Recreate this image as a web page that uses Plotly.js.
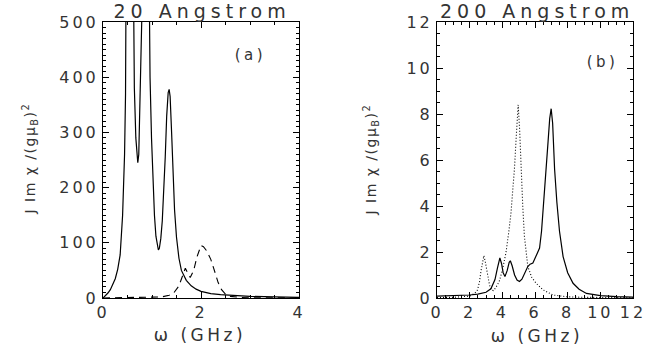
<!DOCTYPE html>
<html>
<head>
<meta charset="utf-8">
<script src="https://cdn.plot.ly/plotly-3.0.1.min.js"></script>
<style>
html, body { margin: 0; padding: 0; background: #fff; }
#chart { width: 646px; height: 353px; }
#chart .xtick text, #chart .ytick text, #chart .x2tick text, #chart .y2tick text { letter-spacing: 3px; }
#chart g.annotation[data-index="0"] text, #chart g.annotation[data-index="1"] text { letter-spacing: 5px; }
#chart g.annotation[data-index="2"] text, #chart g.annotation[data-index="3"] text { letter-spacing: 3.5px; }
#chart g.annotation[data-index="4"] text, #chart g.annotation[data-index="5"] text { letter-spacing: 3.5px; }
#chart g.annotation[data-index="6"] text, #chart g.annotation[data-index="7"] text { letter-spacing: 1.5px; }
</style>
</head>
<body>
<div id="chart"></div>
<script>
// Panel (a): 20 Angstrom
const a_solid_x = [0, 0.05, 0.1, 0.15, 0.2, 0.25, 0.3, 0.35, 0.4, 0.43, 0.44, 0.46, 0.47, 0.49, 0.52, 0.545, 0.57, 0.6, 0.62, 0.64, 0.67, 0.7, 0.71, 0.73, 0.75, 0.77, 0.79, 0.81, 0.84, 0.865, 0.89, 0.92, 0.94, 0.96, 0.99, 1.02, 1.05, 1.08, 1.11, 1.13, 1.15, 1.18, 1.21, 1.24, 1.27, 1.3, 1.33, 1.35, 1.37, 1.4, 1.43, 1.46, 1.5, 1.55, 1.6, 1.65, 1.7, 1.8, 1.9, 2.0, 2.2, 2.4, 2.7, 3.0, 3.5, 4.0];
const a_solid_y = [0, 4, 9, 15, 24, 35, 52, 78, 150, 225, 260, 370, 500, 800, 1500, 2000, 1500, 800, 500, 380, 290, 248, 245, 260, 320, 420, 500, 800, 1500, 2000, 1500, 800, 500, 400, 290, 205, 150, 112, 92, 87, 90, 108, 140, 190, 255, 330, 372, 378, 365, 300, 225, 160, 110, 72, 50, 40, 32, 22, 16, 12, 8, 6, 4, 3, 2, 1];
const a_dash_x = [0, 0.5, 1.0, 1.2, 1.35, 1.45, 1.55, 1.62, 1.68, 1.73, 1.78, 1.85, 1.92, 2.0, 2.05, 2.12, 2.2, 2.28, 2.35, 2.42, 2.5, 2.6, 2.8, 3.0, 4.0];
const a_dash_y = [0, 0.5, 1, 2, 5, 10, 22, 38, 54, 45, 37, 50, 75, 95, 93, 85, 70, 48, 28, 15, 7, 3, 1, 0.5, 0];

// Panel (b): 200 Angstrom
const b_solid_x = [0, 1, 2, 2.5, 3.0, 3.3, 3.55, 3.7, 3.85, 3.95, 4.05, 4.16, 4.3, 4.42, 4.49, 4.6, 4.75, 4.9, 5.05, 5.2, 5.4, 5.56, 5.7, 5.87, 6.05, 6.28, 6.4, 6.5, 6.6, 6.7, 6.8, 6.9, 6.99, 7.08, 7.2, 7.34, 7.5, 7.72, 8.0, 8.33, 8.7, 9.15, 10, 11, 12];
const b_solid_y = [0.08, 0.1, 0.13, 0.17, 0.25, 0.4, 0.8, 1.3, 1.74, 1.5, 1.1, 0.93, 1.2, 1.55, 1.62, 1.4, 1.0, 0.78, 0.72, 0.82, 1.15, 1.37, 1.47, 1.52, 1.8, 2.17, 2.9, 3.8, 4.8, 5.7, 6.8, 7.8, 8.23, 7.6, 5.6, 4.15, 2.9, 1.8, 1.1, 0.64, 0.38, 0.2, 0.1, 0.06, 0.04];
const b_dot_x = [0, 1, 2, 2.3, 2.48, 2.6, 2.7, 2.8, 2.87, 2.95, 3.05, 3.12, 3.22, 3.33, 3.45, 3.6, 3.81, 4.0, 4.22, 4.4, 4.53, 4.65, 4.74, 4.85, 4.97, 5.06, 5.15, 5.25, 5.35, 5.45, 5.56, 5.8, 6.07, 6.5, 7.1, 8, 9, 12];
const b_dot_y = [0.02, 0.03, 0.08, 0.2, 0.35, 0.7, 1.2, 1.7, 1.84, 1.6, 1.15, 0.93, 0.55, 0.35, 0.32, 0.45, 0.72, 1.2, 1.96, 2.9, 3.7, 4.8, 5.6, 7.0, 8.4, 7.3, 5.6, 4.0, 2.7, 1.9, 1.37, 0.9, 0.64, 0.35, 0.13, 0.05, 0.03, 0.01];

const titles = ["20 Angstrom", "200 Angstrom"];
const panelLabels = ["(a)", "(b)"];
const xTitle = "ω (GHz)";
const yTitle = "J Im χ /(gμ<sub>B</sub>)<sup>2</sup>";

const FONT = "DejaVu Sans, sans-serif";
const TXT = "#333";

const traces = [
  {x: a_solid_x, y: a_solid_y, xaxis: 'x', yaxis: 'y', mode: 'lines', line: {color: '#000', width: 1.2}},
  {x: a_dash_x, y: a_dash_y, xaxis: 'x', yaxis: 'y', mode: 'lines', line: {color: '#000', width: 1.1, dash: '7px,5px'}},
  {x: b_solid_x, y: b_solid_y, xaxis: 'x2', yaxis: 'y2', mode: 'lines', line: {color: '#000', width: 1.2}},
  {x: b_dot_x, y: b_dot_y, xaxis: 'x2', yaxis: 'y2', mode: 'lines', line: {color: '#000', width: 1.1, dash: '1px,2px'}}
];

function ax(extra) {
  return Object.assign({
    showgrid: false, zeroline: false, showline: true, linecolor: '#000', linewidth: 1,
    mirror: 'ticks', ticks: 'inside', ticklen: 6, tickwidth: 1, tickcolor: '#000',
    tickfont: {family: FONT, size: 16, color: TXT}
  }, extra);
}

const yDom = [(353 - 298) / 353, (353 - 22) / 353];

const layout = {
  width: 646, height: 353,
  margin: {l: 0, r: 0, t: 0, b: 0},
  paper_bgcolor: '#fff', plot_bgcolor: '#fff',
  showlegend: false,
  hovermode: false,
  xaxis: ax({domain: [103 / 646, 299 / 646], range: [0, 4], dtick: 2, tick0: 0,
    minor: {dtick: 0.5, ticklen: 3, ticks: 'inside', tickcolor: '#000'}}),
  yaxis: ax({domain: yDom, range: [0, 500], dtick: 100, tick0: 0,
    minor: {dtick: 10, ticklen: 3, ticks: 'inside', tickcolor: '#000'}}),
  xaxis2: ax({domain: [437 / 646, 633 / 646], range: [0, 12], dtick: 2, tick0: 0, anchor: 'y2',
    minor: {dtick: 0.5, ticklen: 3, ticks: 'inside', tickcolor: '#000'}}),
  yaxis2: ax({domain: yDom, range: [0, 12], dtick: 2, tick0: 0, anchor: 'x2',
    minor: {dtick: 0.5, ticklen: 3, ticks: 'inside', tickcolor: '#000'}}),
  annotations: [
    {text: titles[0], xref: 'paper', yref: 'paper', x: 202 / 646, y: (353 - 11) / 353, showarrow: false, borderpad: 0,
      xanchor: 'center', yanchor: 'middle', font: {family: FONT, size: 19, color: TXT}},
    {text: titles[1], xref: 'paper', yref: 'paper', x: 537 / 646, y: (353 - 11) / 353, showarrow: false, borderpad: 0,
      xanchor: 'center', yanchor: 'middle', font: {family: FONT, size: 19, color: TXT}},
    {text: panelLabels[0], xref: 'x', yref: 'y', x: 3.02, y: 440, showarrow: false,
      xanchor: 'center', yanchor: 'middle', font: {family: FONT, size: 15, color: TXT}},
    {text: panelLabels[1], xref: 'x2', yref: 'y2', x: 10.15, y: 10.25, showarrow: false,
      xanchor: 'center', yanchor: 'middle', font: {family: FONT, size: 15, color: TXT}},
    {text: xTitle, xref: 'paper', yref: 'paper', x: 200 / 646, y: (353 - 335) / 353, showarrow: false,
      xanchor: 'center', yanchor: 'middle', font: {family: FONT, size: 17, color: TXT}},
    {text: xTitle, xref: 'paper', yref: 'paper', x: 537 / 646, y: (353 - 336) / 353, showarrow: false,
      xanchor: 'center', yanchor: 'middle', font: {family: FONT, size: 17, color: TXT}},
    {text: yTitle, xref: 'paper', yref: 'paper', x: 30 / 646, y: (353 - 159) / 353, showarrow: false,
      textangle: -90, xanchor: 'center', yanchor: 'middle', font: {family: FONT, size: 14, color: TXT}},
    {text: yTitle, xref: 'paper', yref: 'paper', x: 371 / 646, y: (353 - 160) / 353, showarrow: false,
      textangle: -90, xanchor: 'center', yanchor: 'middle', font: {family: FONT, size: 14, color: TXT}}
  ]
};

Plotly.newPlot('chart', traces, layout, {staticPlot: true, displayModeBar: false});
</script>
</body>
</html>
